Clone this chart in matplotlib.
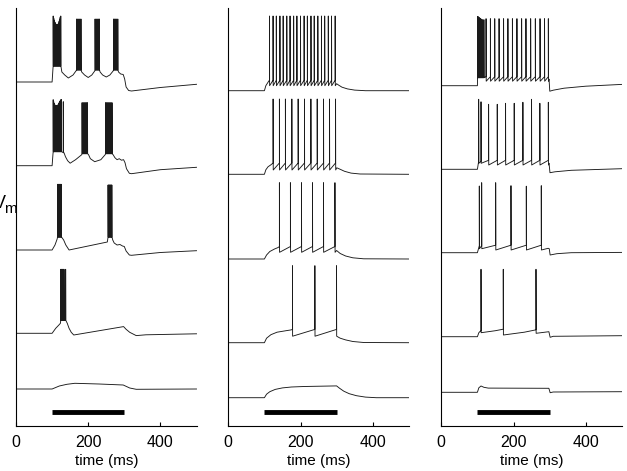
import numpy as np
import matplotlib.pyplot as plt

plt.rcParams['font.family'] = ['Liberation Sans', 'DejaVu Sans']
plt.rcParams['font.size'] = 11

# ---- data: membrane potential traces (t in ms, v in mV relative to rest) ----
t_end = 500
stim = (100, 300)          # current step window
xticks = [0, 200, 400]

# a spike group = (spike times, pre-spike level, peak level(s), post-spike level)

# panel 1 (bursting)
p1_env = [
    [(0, 0), (100, 0), (102.5, 14), (127, 10), (135, 7), (145, 4), (158, 7), (166, 11),
     (182, 10), (190, 7), (200, 4.5), (210, 7), (218, 11), (233, 10), (240, 7), (250, 5),
     (260, 7), (269, 11), (284, 10), (290, 8), (297, 7.5), (301, 3), (305, -5), (312, -8.5),
     (320, -9), (400, -5.5), (500, -2.3)],
    [(0, 0), (100, 0), (102.5, 12), (133, 13), (137, 9), (143, 5), (150, 2.5), (165, 6),
     (182, 11), (201, 11), (206, 7), (218, 4), (235, 6), (247, 11), (269, 11), (274, 8),
     (280, 6), (286, 7), (292, 5.5), (298, 6), (302, 3), (306, -3), (314, -7.6), (320, -8),
     (400, -4), (500, -1.6)],
    [(0, 0), (100, 0), (108, 5), (114, 11), (128, 12), (132, 10), (138, 5), (147, 0),
     (200, 4), (253, 8), (268, 10), (272, 7), (280, 5), (288, 5.5), (295, 4), (300, 3.5),
     (305, -1), (314, -5), (320, -5.3), (400, -2.5), (500, -0.7)],
    [(0, 0), (100, 0), (110, 5), (118, 8), (123, 10), (142, 10), (147, 5), (153, 1),
     (160, -1.7), (298, 6.7), (305, 4), (315, 1), (333, -2.3), (360, -1.5), (500, -0.5)],
    [(0, 0), (100, 0), (120, 3), (141, 4.7), (163, 5.7), (230, 5), (297, 4), (315, 1),
     (333, -0.3), (500, 0)],
]
p1_spk = [
    [([103, 104.5, 106, 107.5, 109, 110.5, 112, 113.5, 115, 116.5, 118, 119.5, 121, 122.5, 124],
      16, [66, 64, 62, 60, 59, 58, 57, 57, 57, 58, 59, 61, 63, 65, 66], 16),
     ([168, 171, 174, 177, 180], 12, 63, 12),
     ([219, 222, 225, 228, 231], 12, 63, 12),
     ([270, 273, 276, 279, 282], 12, 63, 12)],
    [([103, 104.5, 106, 107.5, 109, 110.5, 112, 113.5, 115, 116.5, 118, 119.5, 121, 122.5, 124, 126],
      14, [66, 64, 62, 61, 60, 60, 60, 60, 60, 61, 62, 63, 64, 65, 66, 66], 14),
     ([131], 13, 64, 13),
     ([183, 186, 189, 192, 195, 198], 12, 63, 12),
     ([248, 251, 254, 257, 260, 263, 266], 12, 63, 12)],
    [([115, 116.5, 118, 119.5, 121, 122.5, 124, 125.5], 13, 65.7, 13),
     ([255, 256.5, 258, 259.5, 261, 262.5, 264, 265.5], 13, 65, 13)],
    [([124, 125.5, 127, 128.5, 130, 131.5, 133, 137.5], 13, 64, 13)],
    [],
]

# panel 2 (regular spiking)
p2_env = [
    [(0, 0), (100, 0), (104, 5), (111, 9), (300, 7), (306, 5.5), (315, 3.5), (330, 1.8),
     (350, 0.6), (380, 0), (500, 0)],
    [(0, 0), (100, 0), (104, 4.5), (110, 7.5), (118, 9.5), (300.5, 6.5), (310, 5), (322, 3),
     (340, 1.2), (365, 0.3), (500, 0)],
    [(0, 0), (100, 0), (106, 4), (115, 7.5), (128, 10), (138, 11.5), (300, 8.5), (310, 5.5),
     (325, 3), (345, 1.2), (375, 0.2), (500, 0)],
    [(0, 0), (100, 0), (106, 4.5), (118, 8), (135, 10.5), (160, 12), (174, 12.8), (310, 4.5),
     (325, 2.8), (345, 1.2), (375, 0.2), (500, 0)],
    [(0, 0), (100, 0), (106, 3.5), (115, 6), (130, 8.3), (150, 9.8), (175, 10.7), (210, 11.2),
     (300, 11.8), (308, 9.5), (320, 6.5), (335, 4), (355, 2), (380, 0.6), (410, 0), (500, 0)],
]
p2_spk = [
    [([114, 124, 133, 143, 152, 162, 171, 181, 190, 200, 210, 219, 229, 238, 248, 258, 267,
       277, 286, 296], 10.5, 74.7, 5)],
    [([124.1, 141.6, 158.2, 176, 193.5, 211, 228.8, 246.3, 263.8, 280.4, 297.1], 11.3, 75.3, 4.3)],
    [([141.6, 172.1, 202.7, 233.2, 263.7, 295.4], 12.5, 76.3, 6.7)],
    [([177.7, 239.8, 299.8], 13.3, 77, 6.5)],
    [],
]

# panel 3 (adapting)
p3_env = [
    [(0, 0), (100, 0), (298.5, 6.5), (300.5, -5.5), (310, -4.5), (340, -2.5), (400, -0.5),
     (500, 1.3)],
    [(0, 0), (100, 0), (298.5, 6), (301, -3.4), (315, -2.5), (360, -1), (500, 0.6)],
    [(0, 0), (100, 0), (296, 4.4), (299, 4), (301.5, -2.3), (320, -1), (360, 0), (500, 0.3)],
    [(0, 0), (100, 0), (104, 4), (108, 5.5), (150, 6), (170, 7.4), (230, 4.5), (260, 6.7),
     (298, 5), (301.5, -0.6), (310, 0.4), (500, 1)],
    [(0, 0), (100, 0), (104, 4.5), (110, 6.3), (118, 5), (130, 4.2), (298, 4), (301.5, -0.4),
     (310, 0.3), (500, 0.6)],
]
p3_spk = [
    [([100.5, 102, 103.5, 105, 107, 109, 111.5, 114.5, 118], 8,
      [69, 69, 68.5, 68, 67.5, 67, 66.5, 66, 66], 8),
     ([124, 136, 148, 160, 172.5, 184.5, 197, 209.5, 222.5, 234.5, 247.5, 260.5, 273.5, 286,
       296.5], 9, 67, 4.5)],
    [([103.5, 110], 8, [70, 67.5], 6),
     ([131, 155, 178, 202, 226, 250, 273, 296.5], 9, [65, 65, 66, 66, 67, 70, 66, 67], 4.3)],
    [([105.3, 111.8], 7, [66.7, 70], 4),
     ([150.6, 193, 235.5, 277], 7.5, [70, 67, 66.5, 67], 2.7)],
    [([110, 171.7, 262.3], [6, 7.5, 7], 67.4, [4, 1.7, 3.4])],
    [],
]

panels = [(p1_env, p1_spk), (p2_env, p2_spk), (p3_env, p3_spk)]

# ---- layout ----
W, H = 627, 471
ax_left = [16, 228.3, 441.3]     # px
ax_w, ax_top, ax_bot = 180.5, 8.3, 425.7
y_span = ax_bot - ax_top
offsets = [[343.7, 260, 175.7, 92.4, 36.7],
           [335, 251.4, 166.7, 83, 28],
           [340, 256.4, 173, 89, 33.4]]
bar_y = 14


def build(env, groups):
    pts = list(env)
    for times, pre, peak, post in groups:
        n = len(times)
        pre = np.broadcast_to(pre, n)
        peak = np.broadcast_to(peak, n)
        post = np.broadcast_to(post, n)
        for ts, a, b, c in zip(times, pre, peak, post):
            pts += [(ts, a), (ts, b), (ts + 0.4, c)]
    pts.sort(key=lambda p: p[0])
    t, v = zip(*pts)
    return np.array(t), np.array(v)


fig = plt.figure(figsize=(W / 100, H / 100), dpi=100)

for k, (envs, spks) in enumerate(panels):
    ax = fig.add_axes([ax_left[k] / W, (H - ax_bot) / H, ax_w / W, y_span / H])
    for j in range(5):
        t, v = build(envs[j], spks[j])
        ax.plot(t, v + offsets[k][j], color='#1a1a1a', lw=0.65)
    ax.plot(stim, [bar_y, bar_y], color='black', lw=3.5, solid_capstyle='butt')
    ax.set_xlim(0, t_end)
    ax.set_ylim(0, y_span)
    ax.set_xticks(xticks)
    ax.set_yticks([])
    ax.tick_params(axis='x', direction='in', length=3, width=0.8, pad=6.5,
                   labelsize=11.5)
    for s in ['top', 'right']:
        ax.spines[s].set_visible(False)
    for s in ['left', 'bottom']:
        ax.spines[s].set_linewidth(0.8)
    ax.set_xlabel('time (ms)', labelpad=3)

fig.text(-6 / W, (H - 208) / H, 'V', fontsize=13, va='baseline', ha='left')
fig.text(4.5 / W, (H - 213) / H, 'm', fontsize=11, va='baseline', ha='left')

fig.savefig('out.png', dpi=100)
